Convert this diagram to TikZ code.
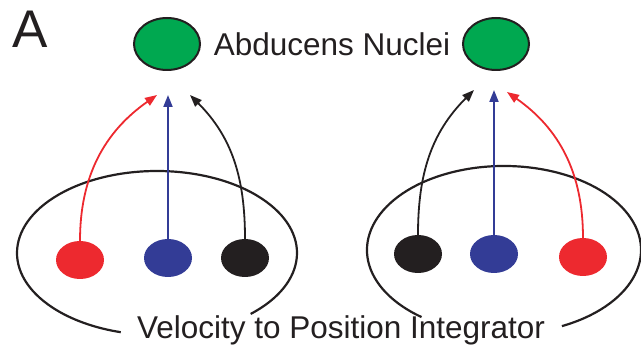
\documentclass[tikz,border=0pt]{standalone}
\usepackage{fontspec}
\setmainfont{Liberation Sans}
\usetikzlibrary{shapes.geometric,arrows.meta}
\definecolor{nucgreen}{RGB}{0,168,80}
\definecolor{cred}{RGB}{237,41,47}
\definecolor{cblue}{RGB}{51,60,150}
\definecolor{cblack}{RGB}{35,31,32}
\begin{document}
\begin{tikzpicture}[x=1pt,y=1pt,
  nucleus/.style={ellipse,draw=cblack,line width=2pt,fill=nucgreen,minimum width=66pt,minimum height=52pt,inner sep=0pt},
  dot/.style={ellipse,fill=#1,minimum width=48pt,minimum height=38pt,inner sep=0pt},
  conn/.style={draw=#1,line width=1.8pt,-{Triangle[length=12pt,width=9pt]}},
  integ/.style={cblack,line width=2.2pt},
  lbl/.style={font=\fontsize{31.5}{36}\selectfont,text=cblack,inner sep=0pt}
]
\useasboundingbox (0,0) rectangle (641,356);
\node[lbl,font=\fontsize{53}{60}\selectfont] (A) at (30,327) {A};
\node[nucleus] (nl) at (167,312) {};
\node[nucleus] (nr) at (496,312) {};
\node[lbl] (abd) at (332,312) {Abducens Nuclei};
% integrator ellipses
\draw[integ] (157,103) ++(-48:140 and 82) arc[start angle=-48,end angle=255,x radius=140,y radius=82];
\draw[integ] (504,106) ++(-65:137 and 84) arc[start angle=-65,end angle=233,x radius=137,y radius=84];
\node[lbl] (vpi) at (341,26) {Velocity to Position Integrator};
% dots
\node[dot=cred] (lr) at (80,96) {};
\node[dot=cblue] (lb) at (168,98) {};
\node[dot=cblack] (lk) at (245,98) {};
\node[dot=cblack] (rk) at (418,102) {};
\node[dot=cblue] (rb) at (494,102) {};
\node[dot=cred] (rr) at (583,99) {};
% tips
\coordinate (tlr) at (157,261);
\coordinate (tlb) at (168,261);
\coordinate (tlk) at (190,261);
\coordinate (trk) at (474,266);
\coordinate (trb) at (494,266);
\coordinate (trr) at (507,264);
\draw[conn=cred] (lr.north) to[out=90,in=-145] (tlr);
\draw[conn=cblue] (lb.north) -- (tlb);
\draw[conn=cblack] (lk.north) to[out=90,in=-45] (tlk);
\draw[conn=cblack] (rk.north) to[out=90,in=-135] (trk);
\draw[conn=cblue] (rb.north) -- (trb);
\draw[conn=cred] (rr.north) to[out=90,in=-35] (trr);
\end{tikzpicture}
\end{document}
